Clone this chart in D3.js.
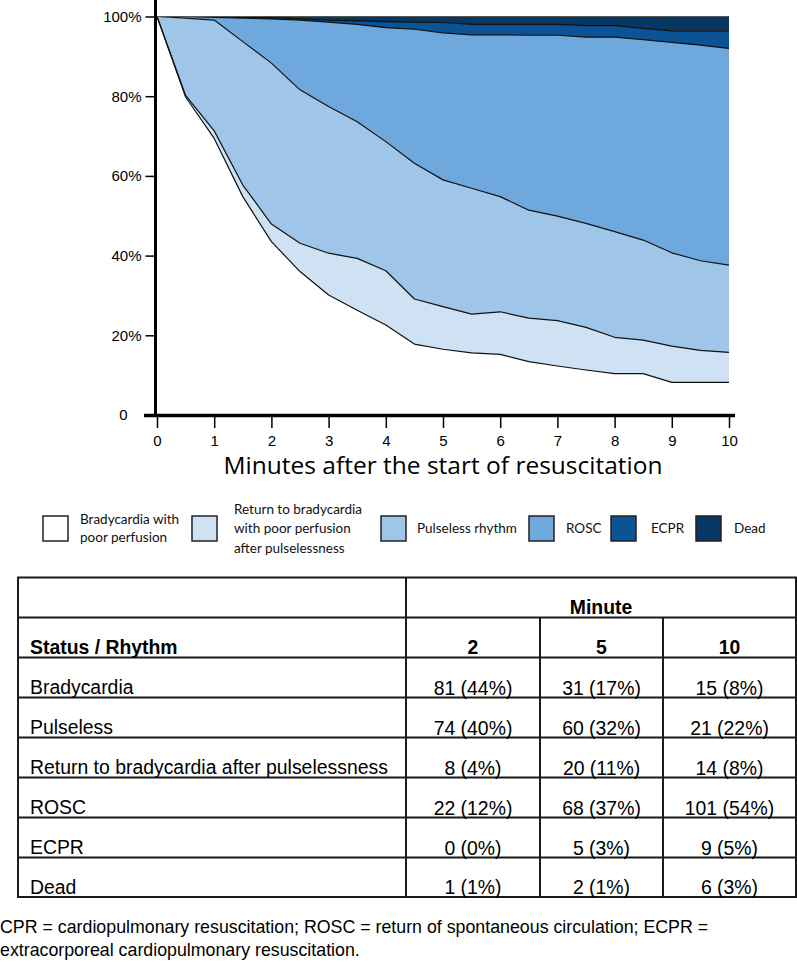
<!DOCTYPE html>
<html><head><meta charset="utf-8">
<script src="https://cdn.jsdelivr.net/npm/d3@7/dist/d3.min.js"></script>
<style>body{margin:0;background:#fff} svg{display:block}</style>
</head><body><svg id="c" width="797" height="962"></svg>
<script>
// ---------- DATA ----------
const minutes = [0,0.5,1,1.5,2,2.5,3,3.5,4,4.5,5,5.5,6,6.5,7,7.5,8,8.5,9,9.5,10];
const bradycardia = [100,79.8,69.4,54.8,43.5,36.0,30.1,26.3,22.6,17.8,16.5,15.6,15.2,13.4,12.3,11.3,10.4,10.4,8.2,8.2,8.2];
const returnBrady = [0,0.4,1.9,2.9,4.4,7.1,10.5,13.0,13.6,11.3,10.7,9.7,10.7,10.9,11.4,10.7,9.1,8.4,9.1,8.0,7.5];
const pulseless   = [0,19.4,27.8,36.0,40.4,38.5,36.8,34.3,32.4,34.1,31.8,31.6,28.9,27.1,26.2,26.1,26.5,25.1,23.4,22.5,21.9];
const rosc        = [0,0.4,0.7,5.9,11.1,17.5,21.2,24.4,28.6,33.6,36.9,38.5,40.6,43.9,45.4,46.7,48.8,50.3,52.8,54.1,54.4];
const ecpr        = [0,0,0.2,0.2,0.3,0.3,0.5,0.9,1.5,1.8,2.6,2.6,2.6,2.7,2.7,2.9,2.9,2.8,2.9,3.6,4.4];
const dead        = [0,0,0,0.2,0.3,0.6,0.9,1.1,1.3,1.4,1.5,2.0,2.0,2.0,2.0,2.3,2.3,3.0,3.6,3.6,3.6];

const seriesKeys = ["brady","ret","pulseless","rosc","ecpr","dead"];
const legendLabels = [["Bradycardia with","poor perfusion"],["Return to bradycardia","with poor perfusion","after pulselessness"],["Pulseless rhythm"],["ROSC"],["ECPR"],["Dead"]];
const xTicks = [0,1,2,3,4,5,6,7,8,9,10];
const yTicks = [0,20,40,60,80,100];
const xTitle = "Minutes after the start of resuscitation";

const tableHeader = "Minute";
const tableFirstHeader = "Status / Rhythm";
const tableColumns = ["2","5","10"];
const tableRowLabels = ["Bradycardia","Pulseless","Return to bradycardia after pulselessness","ROSC","ECPR","Dead"];
const minute2  = ["81 (44%)","74 (40%)","8 (4%)","22 (12%)","0 (0%)","1 (1%)"];
const minute5  = ["31 (17%)","60 (32%)","20 (11%)","68 (37%)","5 (3%)","2 (1%)"];
const minute10 = ["15 (8%)","21 (22%)","14 (8%)","101 (54%)","9 (5%)","6 (3%)"];
const footnote = ["CPR = cardiopulmonary resuscitation; ROSC = return of spontaneous circulation; ECPR =","extracorporeal cardiopulmonary resuscitation."];

// ---------- STYLE ----------
const colors = ["#ffffff","#cfe2f3","#9fc5e8","#6fa8dc","#0b5394","#073763"];
const svg = d3.select("#c");
svg.append("rect").attr("width",797).attr("height",962).attr("fill","#fff");

const x = d3.scaleLinear().domain([0,10]).range([157,729]);
const y = d3.scaleLinear().domain([0,100]).range([415,16.5]);

const rows = minutes.map((m,i)=>({m, brady:bradycardia[i], ret:returnBrady[i], pulseless:pulseless[i], rosc:rosc[i], ecpr:ecpr[i], dead:dead[i]}));
const stacked = d3.stack().keys(seriesKeys)(rows);

const area = d3.area().x(d=>x(d.data.m)).y0(d=>y(d[0])).y1(d=>y(d[1]));
const topLine = d3.line().x(d=>x(d.data.m)).y(d=>y(d[1]));

const g = svg.append("g");
g.selectAll("path.area").data(stacked).join("path")
  .attr("class","area").attr("d",area).attr("fill",(d,i)=>colors[i]).attr("stroke","none");
g.selectAll("path.line").data(stacked).join("path")
  .attr("class","line").attr("d",topLine).attr("fill","none")
  .attr("stroke",(d,i)=> i===5 ? "#555" : "#111").attr("stroke-width",1.2).attr("stroke-linejoin","round");

// Y axis
const yAxis = d3.axisLeft(y).tickValues(yTicks).tickSize(10).tickPadding(4)
  .tickFormat(d=> d===0 ? "0" : d+"%");
const yg = svg.append("g").attr("transform","translate(155.5,0)").call(yAxis);
yg.select(".domain").remove();
yg.selectAll(".tick line").attr("stroke","#000").attr("stroke-width",1.5);
yg.selectAll(".tick text").attr("font-family","'Liberation Sans', Arial, sans-serif").attr("font-size",15).attr("fill","#000")
  .attr("x",d=> d===0 ? -28 : -14);
svg.append("line").attr("x1",155.5).attr("x2",155.5).attr("y1",0).attr("y2",416.5).attr("stroke","#000").attr("stroke-width",3);

// X axis
const xAxis = d3.axisBottom(x).tickValues(xTicks).tickSize(13).tickPadding(7).tickFormat(d3.format("d"));
const xg = svg.append("g").attr("transform","translate(0,415)").call(xAxis);
xg.select(".domain").remove();
xg.selectAll(".tick line").attr("stroke","#000").attr("stroke-width",1.5);
xg.selectAll(".tick text").attr("font-family","'Liberation Sans', Arial, sans-serif").attr("font-size",15).attr("fill","#000");
svg.append("line").attr("x1",144).attr("x2",735).attr("y1",415.5).attr("y2",415.5).attr("stroke","#000").attr("stroke-width",3.5);

svg.append("text").attr("x",443).attr("y",474).attr("text-anchor","middle")
  .attr("font-family","'Open Sans', Lato, sans-serif").attr("font-size",24.5).attr("fill","#000").text(xTitle);

// Legend
const legendBoxX = [43,192,381,529,611,696];
const legendTextX = [80,234,417,566,651,734];
const lg = svg.append("g").attr("font-family","Lato, 'Open Sans', sans-serif").attr("font-size",13.5).attr("fill","#111");
legendLabels.forEach((lab,i)=>{
  lg.append("rect").attr("x",legendBoxX[i]).attr("y",516).attr("width",25).attr("height",25)
    .attr("fill",colors[i]).attr("stroke","#222").attr("stroke-width",1.5);
  const lh = lab.length===3 ? 19.5 : 18;
  const y0 = 533 - (lab.length-1)*lh/2;
  lab.forEach((t,j)=> lg.append("text").attr("x",legendTextX[i]).attr("y",y0+j*lh).text(t));
});

// Table
const colX = [18,406,540,663,796];
const rowY = [577.5,617.5,657.5,697.5,737.5,777.5,817.5,857.5,897];
const tg = svg.append("g");
const lineAttr = s=> s.attr("stroke","#1a1a1a").attr("stroke-width",2);
tg.append("rect").attr("x",colX[0]).attr("y",rowY[0]).attr("width",colX[4]-colX[0]).attr("height",rowY[8]-rowY[0])
  .attr("fill","none").attr("stroke","#1a1a1a").attr("stroke-width",2);
rowY.slice(1,8).forEach(yy=> lineAttr(tg.append("line").attr("x1",colX[0]).attr("x2",colX[4]).attr("y1",yy).attr("y2",yy)));
lineAttr(tg.append("line").attr("x1",colX[1]).attr("x2",colX[1]).attr("y1",rowY[0]).attr("y2",rowY[8]));
[colX[2],colX[3]].forEach(xx=> lineAttr(tg.append("line").attr("x1",xx).attr("x2",xx).attr("y1",rowY[1]).attr("y2",rowY[8])));
const tf = "'Liberation Sans', Arial, Helvetica, sans-serif";
const tt = (xx,yy,t,bold,anchor)=> tg.append("text").attr("x",xx).attr("y",yy).attr("font-family",tf).attr("font-size",19.4)
  .attr("font-weight",bold?"bold":"normal").attr("text-anchor",anchor||"start").attr("fill","#000").text(t);
tt((colX[1]+colX[4])/2, rowY[1]-4, tableHeader, true, "middle");
tt(30, rowY[2]-3.5, tableFirstHeader, true);
tableColumns.forEach((c,i)=> tt((colX[i+1]+colX[i+2])/2, rowY[2]-3.5, c, true, "middle"));
const cols = [minute2, minute5, minute10];
tableRowLabels.forEach((r,j)=>{
  tt(30, rowY[j+3]-3.5, r, false);
  cols.forEach((col,i)=> tt((colX[i+1]+colX[i+2])/2, rowY[j+3]-3, col[j], false, "middle"));
});

// Footnote
footnote.forEach((t,i)=> svg.append("text").attr("x",0).attr("y",933+i*22.5).attr("font-family",tf)
  .attr("font-size",17.8).attr("fill","#000").text(t));
</script></body></html>
